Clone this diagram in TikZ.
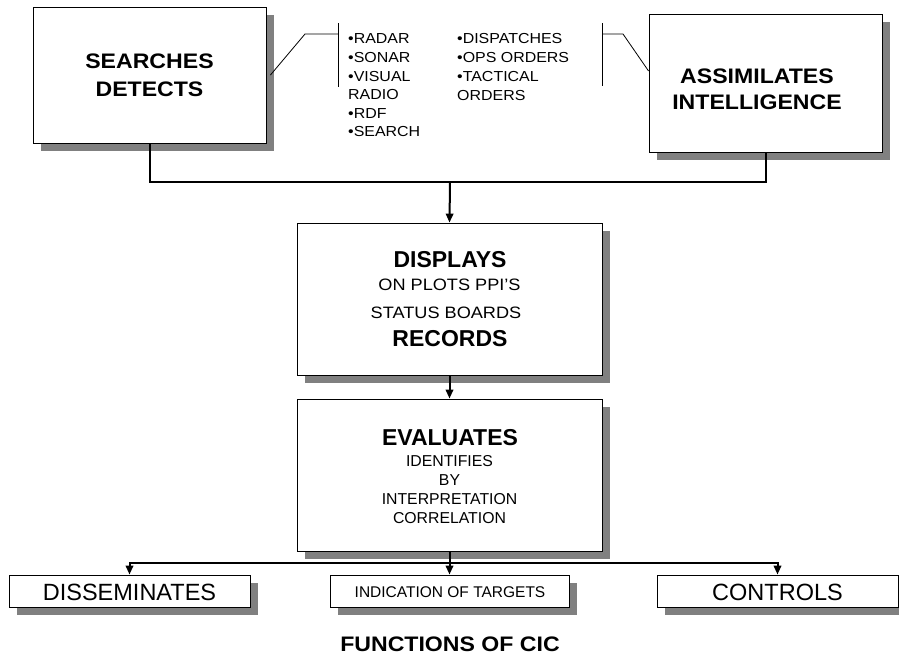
\documentclass[tikz,border=0pt]{standalone}
\usepackage{fontspec}
\setmainfont{Liberation Sans}
\newfontfamily\widefont{Liberation Sans}[FakeStretch=1.1]
\usetikzlibrary{arrows.meta,shadows,calc}
\definecolor{shadowgray}{RGB}{128,128,128}
\tikzset{
  box/.style={rectangle, draw=black, line width=0.9pt, fill=white, inner sep=0pt,
    drop shadow={shadow xshift=8pt, shadow yshift=-8pt, fill=shadowgray, opacity=1, draw=none}},
  txt/.style={inner sep=0pt},
  listtxt/.style={inner sep=0pt, anchor=west, font=\widefont\fontsize{14.5}{17}\selectfont},
  headbig/.style={txt, font=\widefont\bfseries\fontsize{21}{25}\selectfont},
  headmid/.style={txt, font=\bfseries\fontsize{23}{27}\selectfont},
  subwide/.style={txt, font=\widefont\fontsize{16.5}{19}\selectfont},
  subnorm/.style={txt, font=\fontsize{15.8}{19}\selectfont},
  conn/.style={line width=2pt, black},
  tip/.style={-{Triangle[length=9pt,width=7.5pt]}},
  bracket/.style={line width=0.8pt, black}
}
\begin{document}
\begin{tikzpicture}[x=1pt,y=-1pt]
\useasboundingbox (0,0) rectangle (899,657);

% function boxes
\node[box, minimum width=233pt, minimum height=136pt] (search) at (149.5,75) {};
\node[box, minimum width=233pt, minimum height=138pt] (assim) at (765.5,83) {};
\node[box, minimum width=305pt, minimum height=152pt] (display) at (449.5,299) {};
\node[box, minimum width=305pt, minimum height=152pt] (eval) at (449.5,475) {};
\node[box, minimum width=241pt, minimum height=32pt] (dissem) at (129.5,591) {};
\node[box, minimum width=239pt, minimum height=32pt] (indic) at (449.5,591) {};
\node[box, minimum width=241pt, minimum height=32pt] (ctrl) at (777.5,591) {};

% box texts
\node[headbig] (search-a) at (149.5,61) {SEARCHES};
\node[headbig] (search-b) at (149.5,89) {DETECTS};
\node[headbig] (assim-a) at (757,76) {ASSIMILATES};
\node[headbig] (assim-b) at (757,102) {INTELLIGENCE};
\node[headmid] (display-a) at (450,260) {DISPLAYS};
\node[subwide] (display-b) at (449.5,285) {ON PLOTS PPI’S};
\node[subwide] (display-c) at (446,313) {STATUS BOARDS};
\node[headmid] (display-d) at (450,339) {RECORDS};
\node[headmid] (eval-a) at (450,437.5) {EVALUATES};
\node[subnorm] (eval-b) at (449.5,461.5) {IDENTIFIES};
\node[subnorm] (eval-c) at (449.5,480.5) {BY};
\node[subnorm] (eval-d) at (449.5,499.5) {INTERPRETATION};
\node[subnorm] (eval-e) at (449.5,518.5) {CORRELATION};
\node[txt, font=\fontsize{23.5}{27}\selectfont] (dissem-t) at (129.5,592) {DISSEMINATES};
\node[txt, font=\fontsize{15.5}{18}\selectfont] (indic-t) at (450,592) {INDICATION OF TARGETS};
\node[txt, font=\fontsize{23.5}{27}\selectfont] (ctrl-t) at (777.5,592) {CONTROLS};

% source lists
\foreach \t [count=\i] in {•RADAR,•SONAR,•VISUAL,RADIO,•RDF,•SEARCH}
  \node[listtxt] (srcl-\i) at (348,{39+18.6*(\i-1)}) {\t};
\foreach \t [count=\i] in {•DISPATCHES,•OPS ORDERS,•TACTICAL,ORDERS}
  \node[listtxt] (srcr-\i) at (457,{38.5+19*(\i-1)}) {\t};

% brackets tying the lists to their boxes
\coordinate (lbar-top) at (338,23);
\coordinate (lbar-bot) at (338,87);
\coordinate (lbar-mid) at (338,34);
\coordinate (lknee) at (305,34);
\draw[bracket] (lbar-top) -- (lbar-bot);
\draw[bracket] ($(search.east)+(4,0)$) -- (lknee) -- (lbar-mid);
\coordinate (rbar-top) at (602,23);
\coordinate (rbar-bot) at (602,86);
\coordinate (rbar-mid) at (602,34);
\coordinate (rknee) at (623,34);
\draw[bracket] (rbar-top) -- (rbar-bot);
\draw[bracket] (rbar-mid) -- (rknee) -- ($(assim.west)+(0,-12)$);

% flow connectors
\coordinate (join1) at (450,182);
\draw[conn] (search.south) |- (join1) -| (assim.south);
\draw[conn, tip] (join1) -- (display.north);
\draw[conn, tip] (display.south) -- (eval.north);
\coordinate (join2) at (450,563);
\draw[conn, tip] (eval.south) -- (indic.north);
\draw[conn, tip] (join2) -| (dissem.north);
\draw[conn, tip] (join2) -| (ctrl.north);

% caption
\node[txt, font=\widefont\bfseries\fontsize{21}{25}\selectfont] (caption) at (450,644) {FUNCTIONS OF CIC};
\end{tikzpicture}
\end{document}
